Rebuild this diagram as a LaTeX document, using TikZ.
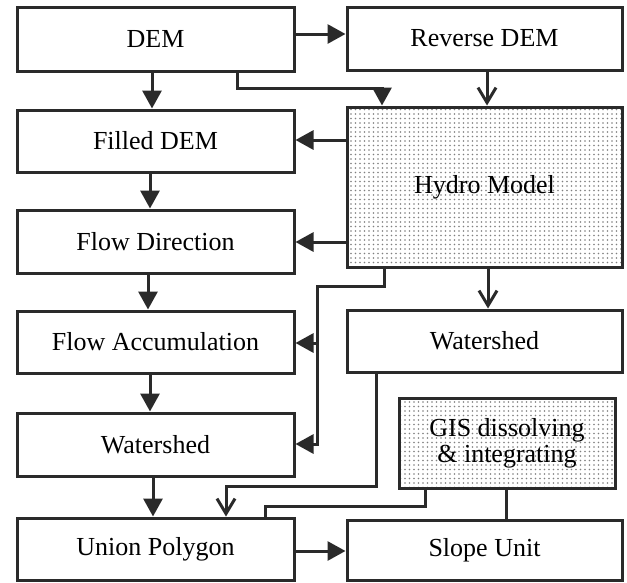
\documentclass[tikz,border=0pt]{standalone}
\usepackage{fontspec}
\setmainfont{Liberation Serif}
\usetikzlibrary{arrows.meta,patterns.meta}
\definecolor{lc}{HTML}{2A2A2A}
\begin{document}
\begin{tikzpicture}[x=1pt,y=-1pt,
  box/.style={draw=lc, line width=3pt, minimum width=277pt, minimum height=63pt, inner sep=0pt, align=center, font=\fontsize{26}{26}\selectfont},
  rbox/.style={box, minimum width=275pt},
  dotbox/.style={pattern={Dots[distance=4.5pt,radius=0.8pt]}, pattern color=black!50},
  conn/.style={draw=lc, line width=3pt},
  arr/.style={conn, -{Triangle[length=18pt,width=19pt]}},
  oarr/.style={conn, -{Straight Barb[length=15pt,width=18pt,line width=3pt]}},
]
\fill[white] (0,0) rectangle (627,582);
\useasboundingbox (0,0) rectangle (627,582);

% left column
\node[box, minimum height=64pt] (dem) at (155.5,39) {DEM};
\node[box, minimum height=62pt] (filled) at (155.5,141) {Filled DEM};
\node[box, minimum height=63pt] (flowdir) at (155.5,241.5) {Flow Direction};
\node[box, minimum height=62pt] (flowacc) at (155.5,342) {Flow Accumulation};
\node[box, minimum height=63pt] (wsl) at (155.5,444.5) {Watershed};
\node[box, minimum height=62pt] (union) at (155.5,549) {Union Polygon};

% right column
\node[rbox, minimum height=63pt] (rdem) at (484.5,38.5) {Reverse DEM};
\node[rbox, dotbox, minimum height=160pt] (hydro) at (484.5,187) {Hydro Model};
\node[rbox, minimum height=62pt] (wsr) at (484.5,341) {Watershed};
\node[box, dotbox, minimum width=216pt, minimum height=90pt] (gis) at (507,443) {GIS dissolving\\\& integrating};
\node[rbox, minimum height=60pt] (slope) at (484.5,550) {Slope Unit};

% connectors
\draw[arr] (dem.east |- 0,34) -- (rdem.west |- 0,34);
\draw[arr] (dem.south -| 237,0) |- (382,88) -- (hydro.north -| 382,0);
\draw[oarr] (rdem.south -| 487,0) -- (hydro.north -| 487,0);
\draw[arr] (dem.south -| 152,0) -- (filled.north -| 152,0);
\draw[arr] (filled.south -| 150,0) -- (flowdir.north -| 150,0);
\draw[arr] (flowdir.south -| 148,0) -- (flowacc.north -| 148,0);
\draw[arr] (flowacc.south -| 150,0) -- (wsl.north -| 150,0);
\draw[arr] (wsl.south -| 153,0) -- (union.north -| 153,0);

\draw[arr] (hydro.west |- 0,140) -- (filled.east |- 0,140);
\draw[arr] (hydro.west |- 0,242) -- (flowdir.east |- 0,242);
\draw[oarr] (hydro.south -| 488,0) -- (wsr.north -| 488,0);

\coordinate (jn) at (317,343);
\draw[arr] (hydro.south -| 384,0) |- (317,286) |- (wsl.east |- 0,444);
\draw[arr] (jn) -- (flowacc.east |- jn);

\draw[oarr] (wsr.south -| 376,0) |- (226,486) -- (union.north -| 226,0);
\draw[conn] (gis.south -| 425,0) |- (265,506) -- (union.north -| 265,0);
\draw[conn] (gis.south -| 506,0) -- (slope.north -| 506,0);
\draw[arr] (union.east |- 0,551) -- (slope.west |- 0,551);
\end{tikzpicture}
\end{document}
